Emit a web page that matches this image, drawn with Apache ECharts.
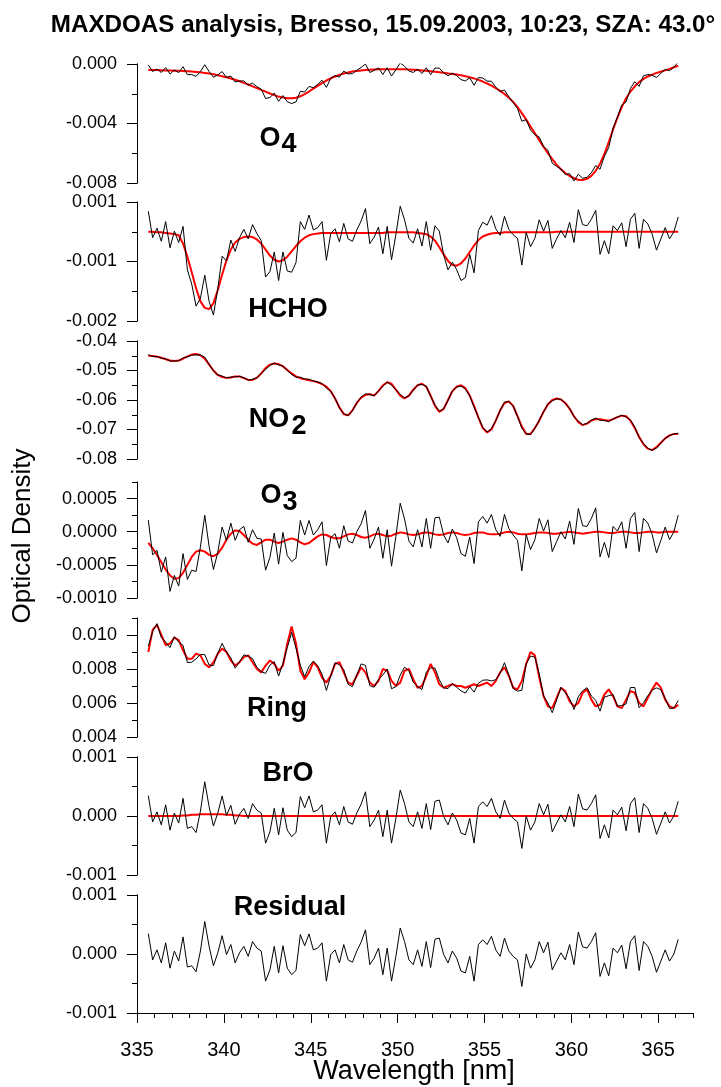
<!DOCTYPE html>
<html><head><meta charset="utf-8">
<script src="https://cdn.jsdelivr.net/npm/echarts@6/dist/echarts.min.js"></script>
<style>html,body{margin:0;padding:0;background:#fff}#c{width:721px;height:1087px}</style>
</head><body><div id="c"></div>
<script>
// ---------- DATA (optical density values in units of 1e-3) ----------
// sampling grid of the spectra: 335.65 nm .. 366.15 nm, 0.25 nm steps (123 points)
const WL_START = 335.65, WL_STEP = 0.25, WL_COUNT = 123;
const MILLI = 1e-3;

const O4_FIT = [
 -0.40,-0.41,-0.41,-0.42, -0.43,-0.44,-0.45,-0.46, -0.47,-0.49,-0.51,-0.53, -0.56,-0.60,-0.64,-0.69,
 -0.75,-0.82,-0.89,-0.97, -1.06,-1.16,-1.27,-1.38, -1.50,-1.62,-1.74,-1.86, -1.98,-2.09,-2.19,-2.26,
 -2.30,-2.31,-2.27,-2.17, -2.02,-1.85,-1.66,-1.47, -1.28,-1.11,-0.96,-0.84, -0.73,-0.64,-0.57,-0.51,
 -0.47,-0.43,-0.41,-0.39, -0.37,-0.36,-0.36,-0.35, -0.35,-0.35,-0.36,-0.36, -0.37,-0.39,-0.41,-0.43,
 -0.46,-0.49,-0.52,-0.55, -0.59,-0.63,-0.67,-0.71, -0.76,-0.82,-0.89,-0.97, -1.07,-1.18,-1.31,-1.46,
 -1.63,-1.81,-2.02,-2.26, -2.55,-2.90,-3.30,-3.74, -4.20,-4.66,-5.12,-5.57, -6.00,-6.40,-6.76,-7.08,
 -7.33,-7.53,-7.68,-7.78, -7.80,-7.72,-7.52,-7.18, -6.70,-6.05,-5.25,-4.40, -3.60,-2.90,-2.30,-1.85,
 -1.50,-1.22,-1.00,-0.84, -0.71,-0.60,-0.51,-0.43, -0.33,-0.22,-0.12
];
const HCHO_FIT = [
 0.00,0.00,-0.01,-0.01, -0.02,-0.03,-0.04,-0.06, -0.20,-0.42,-0.68,-0.95, -1.17,-1.28,-1.30,-1.20,
 -0.98,-0.72,-0.48,-0.30, -0.18,-0.12,-0.09,-0.08, -0.09,-0.13,-0.20,-0.30, -0.40,-0.47,-0.50,-0.48,
 -0.42,-0.33,-0.24,-0.16, -0.10,-0.06,-0.04,-0.03, -0.02,-0.02,-0.02,-0.02, -0.02,-0.02,-0.02,-0.02,
 -0.02,-0.02,-0.02,-0.02, -0.02,-0.02,-0.02,-0.01, -0.01,-0.01,-0.01,-0.01, -0.01,-0.01,-0.02,-0.03,
 -0.04,-0.08,-0.15,-0.26, -0.38,-0.49,-0.56,-0.57, -0.53,-0.45,-0.34,-0.23, -0.14,-0.08,-0.05,-0.03,
 -0.02,-0.02,-0.01,-0.01, -0.01,-0.01,-0.01,-0.01, -0.01,-0.01,-0.01,-0.01, -0.01,-0.01,0.00,0.00,
 0.00,0.00,0.00,0.00, 0.00,0.00,0.00,0.00, 0.00,0.00,0.00,0.00, 0.00,0.00,0.00,0.00,
 0.00,0.00,0.00,0.00, 0.00,0.00,0.00,0.00, 0.00,0.00,0.00
];
const NO2_FIT = [
 -45.0,-45.1,-45.3,-45.7, -46.2,-46.6,-46.8,-46.6, -46.0,-45.2,-44.6,-44.4, -44.8,-46.0,-48.0,-50.0,
 -51.5,-52.2,-52.5,-52.4, -52.0,-52.0,-52.6,-53.2, -53.2,-52.5,-51.0,-49.2, -48.0,-47.6,-47.8,-48.6,
 -49.8,-51.0,-52.0,-52.6, -53.0,-53.3,-53.6,-54.0, -54.6,-55.5,-57.0,-59.5, -62.5,-64.8,-65.2,-63.5,
 -61.0,-59.2,-58.3,-58.0, -58.5,-57.0,-55.0,-54.0, -54.5,-56.5,-58.5,-59.5, -58.5,-56.5,-55.0,-54.5,
 -55.5,-58.5,-62.0,-64.0, -63.0,-60.0,-57.0,-55.5, -55.0,-56.0,-58.5,-62.0, -66.0,-69.5,-71.0,-70.0,
 -67.0,-63.5,-61.0,-60.5, -62.0,-65.5,-69.0,-71.5, -71.5,-69.5,-67.0,-64.0, -61.5,-60.0,-59.5,-59.8,
 -61.0,-63.0,-65.5,-67.5, -68.5,-68.0,-67.0,-66.5, -66.5,-66.8,-67.0,-66.5, -65.8,-65.3,-65.5,-67.0,
 -69.5,-72.5,-75.0,-76.5, -77.0,-76.0,-74.5,-73.0, -72.0,-71.5,-71.5
];
const O3_FIT = [
 -0.17,-0.25,-0.35,-0.46, -0.57,-0.66,-0.71,-0.70, -0.62,-0.50,-0.38,-0.30, -0.28,-0.30,-0.35,-0.37,
 -0.33,-0.24,-0.12,-0.03, 0.02,0.01,-0.05,-0.12, -0.18,-0.20,-0.16,-0.12, -0.12,-0.15,-0.17,-0.15,
 -0.12,-0.10,-0.12,-0.16, -0.19,-0.17,-0.12,-0.07, -0.04,-0.05,-0.08,-0.10, -0.10,-0.07,-0.04,-0.03,
 -0.05,-0.08,-0.09,-0.07, -0.04,-0.03,-0.05,-0.07, -0.06,-0.03,-0.01,-0.02, -0.04,-0.05,-0.04,-0.02,
 -0.01,-0.02,-0.04,-0.05, -0.04,-0.02,-0.01,-0.02, -0.04,-0.05,-0.04,-0.02, -0.01,-0.01,-0.03,-0.04,
 -0.04,-0.03,-0.01,0.00, -0.01,-0.03,-0.04,-0.04, -0.03,-0.02,-0.01,-0.01, -0.02,-0.03,-0.03,-0.02,
 -0.01,0.00,-0.01,-0.02, -0.03,-0.02,-0.01,0.00, 0.00,-0.01,-0.02,-0.02, -0.01,0.00,0.00,-0.01,
 -0.02,-0.02,-0.01,0.00, 0.00,-0.01,-0.01,0.00, 0.00,0.00,0.00
];
const RING_FIT = [
 9.0,10.3,10.6,10.0, 9.4,9.5,9.85,9.7, 9.1,8.6,8.6,8.9, 8.8,8.3,8.1,8.4,
 8.9,9.2,9.0,8.5, 8.2,8.4,8.7,8.8, 8.4,8.0,7.8,8.2, 8.5,8.3,7.9,8.2,
 9.5,10.5,9.5,7.9, 7.4,7.8,8.4,8.1, 7.5,7.2,7.6,8.3, 8.4,7.8,7.2,7.1,
 7.6,8.1,7.8,7.2, 7.0,7.3,8.0,7.9, 7.3,7.0,7.2,7.9, 8.0,7.4,6.9,7.0,
 7.6,8.3,7.8,7.1, 6.9,7.0,7.1,7.0, 7.0,6.9,7.0,7.1, 7.0,7.1,7.2,7.0,
 7.3,7.8,8.1,7.6, 6.9,6.8,7.3,8.3, 9.0,8.8,7.5,6.4, 5.8,5.7,6.3,6.9,
 6.7,6.1,5.8,6.0, 6.6,6.8,6.2,5.8, 5.9,6.5,6.8,6.4, 5.8,5.7,6.2,6.7,
 6.6,6.0,5.8,6.3, 6.8,7.2,6.9,6.2, 5.8,5.7,5.9
];
const BRO_FIT = [
 0.00,0.00,0.00,0.00, 0.00,0.00,0.00,0.00, 0.01,0.01,0.02,0.02, 0.03,0.03,0.03,0.03,
 0.03,0.03,0.02,0.02, 0.01,0.01,0.00,0.00, 0.00,0.00,0.00,0.00, 0.00,0.00,0.00,0.00,
 0.00,0.00,0.00,0.00, 0.00,0.00,0.00,0.00, 0.00,0.00,0.00,0.00, 0.00,0.00,0.00,0.00,
 0.00,0.00,0.00,0.00, 0.00,0.00,0.00,0.00, 0.00,0.00,0.00,0.00, 0.00,0.00,0.00,0.00,
 0.00,0.00,0.00,0.00, 0.00,0.00,0.00,0.00, 0.00,0.00,0.00,0.00, 0.00,0.00,0.00,0.00,
 0.00,0.00,0.00,0.00, 0.00,0.00,0.00,0.00, 0.00,0.00,0.00,0.00, 0.00,0.00,0.00,0.00,
 0.00,0.00,0.00,0.00, 0.00,0.00,0.00,0.00, 0.00,0.00,0.00,0.00, 0.00,0.00,0.00,0.00,
 0.00,0.00,0.00,0.00, 0.00,0.00,0.00,0.00, 0.00,0.00,0.00
];
const RESIDUAL = [
 0.345,-0.10,0.07,-0.15, 0.19,-0.24,0.05,-0.12, 0.29,-0.22,-0.20,-0.30, 0.05,0.55,0.13,-0.20,
 0.02,0.31,-0.01,0.16, -0.15,0.02,0.13,-0.04, 0.21,0.10,0.05,-0.46, -0.27,0.13,-0.32,0.14,
 -0.24,-0.35,-0.28,0.33, 0.14,0.34,0.07,0.10, 0.19,-0.46,-0.01,0.07,
 -0.15,0.16,-0.10,-0.14, 0.05,0.20,0.41,-0.18, -0.07,0.10,-0.35,0.10, -0.46,-0.04,0.44,0.21,
 -0.10,-0.18,0.07,-0.21, 0.21,-0.23,0.25,0.27, -0.01,-0.15,0.05,-0.07, -0.29,-0.32,-0.04,-0.46,
 0.16,0.24,0.16,0.30, 0.07,-0.04,0.27,0.05, -0.04,-0.10,-0.55,0.00, -0.24,
 -0.10,0.21,0.02,0.20, -0.27,-0.12,0.02,-0.10, 0.16,-0.18,0.37,0.12, 0.10,0.21,0.36,-0.38,
 -0.15,-0.37,0.10,0.02, 0.15,-0.25,0.21,0.31, -0.28,0.21,0.13,-0.04, -0.31,-0.12,0.07,-0.12,
 0.00,0.25
];

// tick values and tick labels
const X_MAJOR = [335,340,345,350,355,360,365];
const X_MINOR = [335,336,337,338,339,340,341,342,343,344,345,346,347,348,349,350,351,352,353,354,355,356,357,358,359,360,361,362,363,364,365,366,367];
const O4_MAJOR = [-0.008,-0.004,0], O4_LABELS = ['-0.008','-0.004','0.000'], O4_MINOR = [-0.008,-0.006,-0.004,-0.002,0];
const HCHO_MAJOR = [-0.0015,-0.0005,0.0005], HCHO_LABELS = ['-0.002','-0.001','0.001'], HCHO_MINOR = [-0.0015,-0.001,-0.0005,0,0.0005];
const NO2_MAJOR = [-0.08,-0.07,-0.06,-0.05,-0.04], NO2_LABELS = ['-0.08','-0.07','-0.06','-0.05','-0.04'], NO2_MINOR = [-0.08,-0.075,-0.07,-0.065,-0.06,-0.055,-0.05,-0.045,-0.04];
const O3_MAJOR = [-0.001,-0.0005,0,0.0005], O3_LABELS = ['-0.0010','-0.0005','0.0000','0.0005'], O3_MINOR = [-0.001,-0.00075,-0.0005,-0.00025,0,0.00025,0.0005,0.00075];
const RING_MAJOR = [0.004,0.006,0.008,0.010], RING_LABELS = ['0.004','0.006','0.008','0.010'], RING_MINOR = [0.004,0.005,0.006,0.007,0.008,0.009,0.010,0.011];
const BRO_MAJOR = [-0.001,0,0.001], BRO_LABELS = ['-0.001','0.000','0.001'], BRO_MINOR = [-0.001,-0.0005,0,0.0005,0.001];
const RES_MAJOR = [-0.001,0,0.001], RES_LABELS = ['-0.001','0.000','0.001'], RES_MINOR = [-0.001,-0.0005,0,0.0005,0.001];

const TITLE = 'MAXDOAS analysis, Bresso, 15.09.2003, 10:23, SZA: 43.0°';
const X_NAME = 'Wavelength [nm]';
const Y_NAME = 'Optical Density';

// ---------- LAYOUT / STYLE ----------
const FONT = '"Liberation Sans", Arial, Helvetica, sans-serif';
const PLOT_LEFT = 137, PLOT_WIDTH = 556;
const BOXES = [[64,119],[202,119],[341,118],[482,116],[618,119],[757,118],[895,118]];

const PANELS = [
  {fit:O4_FIT, min:-0.008, max:0, major:O4_MAJOR, labels:O4_LABELS, minor:O4_MINOR},
  {fit:HCHO_FIT, min:-0.0015, max:0.0005, major:HCHO_MAJOR, labels:HCHO_LABELS, minor:HCHO_MINOR},
  {fit:NO2_FIT, min:-0.08, max:-0.04, major:NO2_MAJOR, labels:NO2_LABELS, minor:NO2_MINOR},
  {fit:O3_FIT, min:-0.001, max:0.00075, major:O3_MAJOR, labels:O3_LABELS, minor:O3_MINOR},
  {fit:RING_FIT, min:0.004, max:0.011, major:RING_MAJOR, labels:RING_LABELS, minor:RING_MINOR},
  {fit:BRO_FIT, min:-0.001, max:0.001, major:BRO_MAJOR, labels:BRO_LABELS, minor:BRO_MINOR},
  {fit:null, min:-0.001, max:0.001, major:RES_MAJOR, labels:RES_LABELS, minor:RES_MINOR}
];

const WL = [];
for (let i = 0; i < WL_COUNT; i++) WL.push(+(WL_START + i * WL_STEP).toFixed(2));

function toPoints(a, b) {
  return WL.map((w, i) => [w, ((a ? a[i] : 0) + (b ? b[i] : 0)) * MILLI]);
}

const grids = [], xAxes = [], yAxes = [], series = [];
const axisLineStyle = {color:'#000', width:1};
PANELS.forEach((p, g) => {
  const last = g === PANELS.length - 1;
  grids.push({left:PLOT_LEFT, width:PLOT_WIDTH, top:BOXES[g][0], height:BOXES[g][1], containLabel:false});
  xAxes.push({
    gridIndex:g, type:'value', min:335, max:367, show:last, position:'bottom',
    axisLine:{show:true, onZero:false, lineStyle:axisLineStyle},
    axisTick:{show:true, customValues:X_MAJOR, length:10, lineStyle:axisLineStyle},
    axisLabel:{show:last, customValues:X_MAJOR, margin:27, fontSize:20, color:'#000', fontFamily:FONT},
    splitLine:{show:false}
  });
  yAxes.push({
    gridIndex:g, type:'value', min:p.min, max:p.max, position:'left',
    axisLine:{show:true, onZero:false, lineStyle:axisLineStyle},
    axisTick:{show:true, customValues:p.major, length:10, lineStyle:axisLineStyle},
    axisLabel:{show:true, customValues:p.major, margin:20, fontSize:18, color:'#000', fontFamily:FONT,
      formatter:(v) => { for (let k = 0; k < p.major.length; k++) if (Math.abs(p.major[k]-v) < 1e-9) return p.labels[k]; return ''; }},
    splitLine:{show:false}
  });
  yAxes.push({
    gridIndex:g, type:'value', min:p.min, max:p.max, position:'left',
    axisLine:{show:true, onZero:false, lineStyle:axisLineStyle},
    axisTick:{show:true, customValues:p.minor, length:5, lineStyle:axisLineStyle},
    axisLabel:{show:false}, splitLine:{show:false}
  });
  const base = {type:'line', xAxisIndex:g, yAxisIndex:2*g, symbol:'none', showSymbol:false, silent:true, animation:false, smooth:false};
  if (p.fit) {
    series.push(Object.assign({}, base, {name:'fit'+g, data:toPoints(p.fit, null), lineStyle:{color:'#ff0000', width:2}, z:2}));
    series.push(Object.assign({}, base, {name:'meas'+g, data:toPoints(p.fit, RESIDUAL), lineStyle:{color:'#000', width:1}, z:3}));
  } else {
    series.push(Object.assign({}, base, {name:'res', data:toPoints(RESIDUAL, null), lineStyle:{color:'#000', width:1}, z:3}));
  }
});
// minor x ticks on the bottom panel
xAxes.push({
  gridIndex:6, type:'value', min:335, max:367, position:'bottom',
  axisLine:{show:true, onZero:false, lineStyle:axisLineStyle},
  axisTick:{show:true, customValues:X_MINOR, length:5, lineStyle:axisLineStyle},
  axisLabel:{show:false}, splitLine:{show:false}
});

function txt(s, x, y, font, extra) {
  return Object.assign({type:'text', x:x, y:y, silent:true, style:{text:s, font:font, fill:'#000',
    align:'center', verticalAlign:'middle', textAlign:'center', textVerticalAlign:'middle'}}, extra || {});
}
const BOLD = 'bold 27px ' + FONT;
const graphics = [
  txt('O', 270, 139, BOLD), txt('4', 289, 145, BOLD),
  txt('HCHO', 288, 310, BOLD),
  txt('NO', 269, 420, BOLD), txt('2', 299, 427, BOLD),
  txt('O', 271, 496, BOLD), txt('3', 290, 503, BOLD),
  txt('Ring', 277, 709, BOLD),
  txt('BrO', 288, 774, BOLD),
  txt('Residual', 290, 908, BOLD),
  txt(X_NAME, 414, 1072, '27px ' + FONT),
  txt(Y_NAME, 23, 536, '26px ' + FONT, {rotation:Math.PI/2}),
  txt(TITLE, 383, 25, 'bold 24.2px ' + FONT)
];

const chart = echarts.init(document.getElementById('c'), null, {renderer:'canvas'});
chart.setOption({
  animation:false,
  backgroundColor:'#fff',
  grid:grids, xAxis:xAxes, yAxis:yAxes, series:series,
  graphic:{elements:graphics}
});
</script></body></html>
